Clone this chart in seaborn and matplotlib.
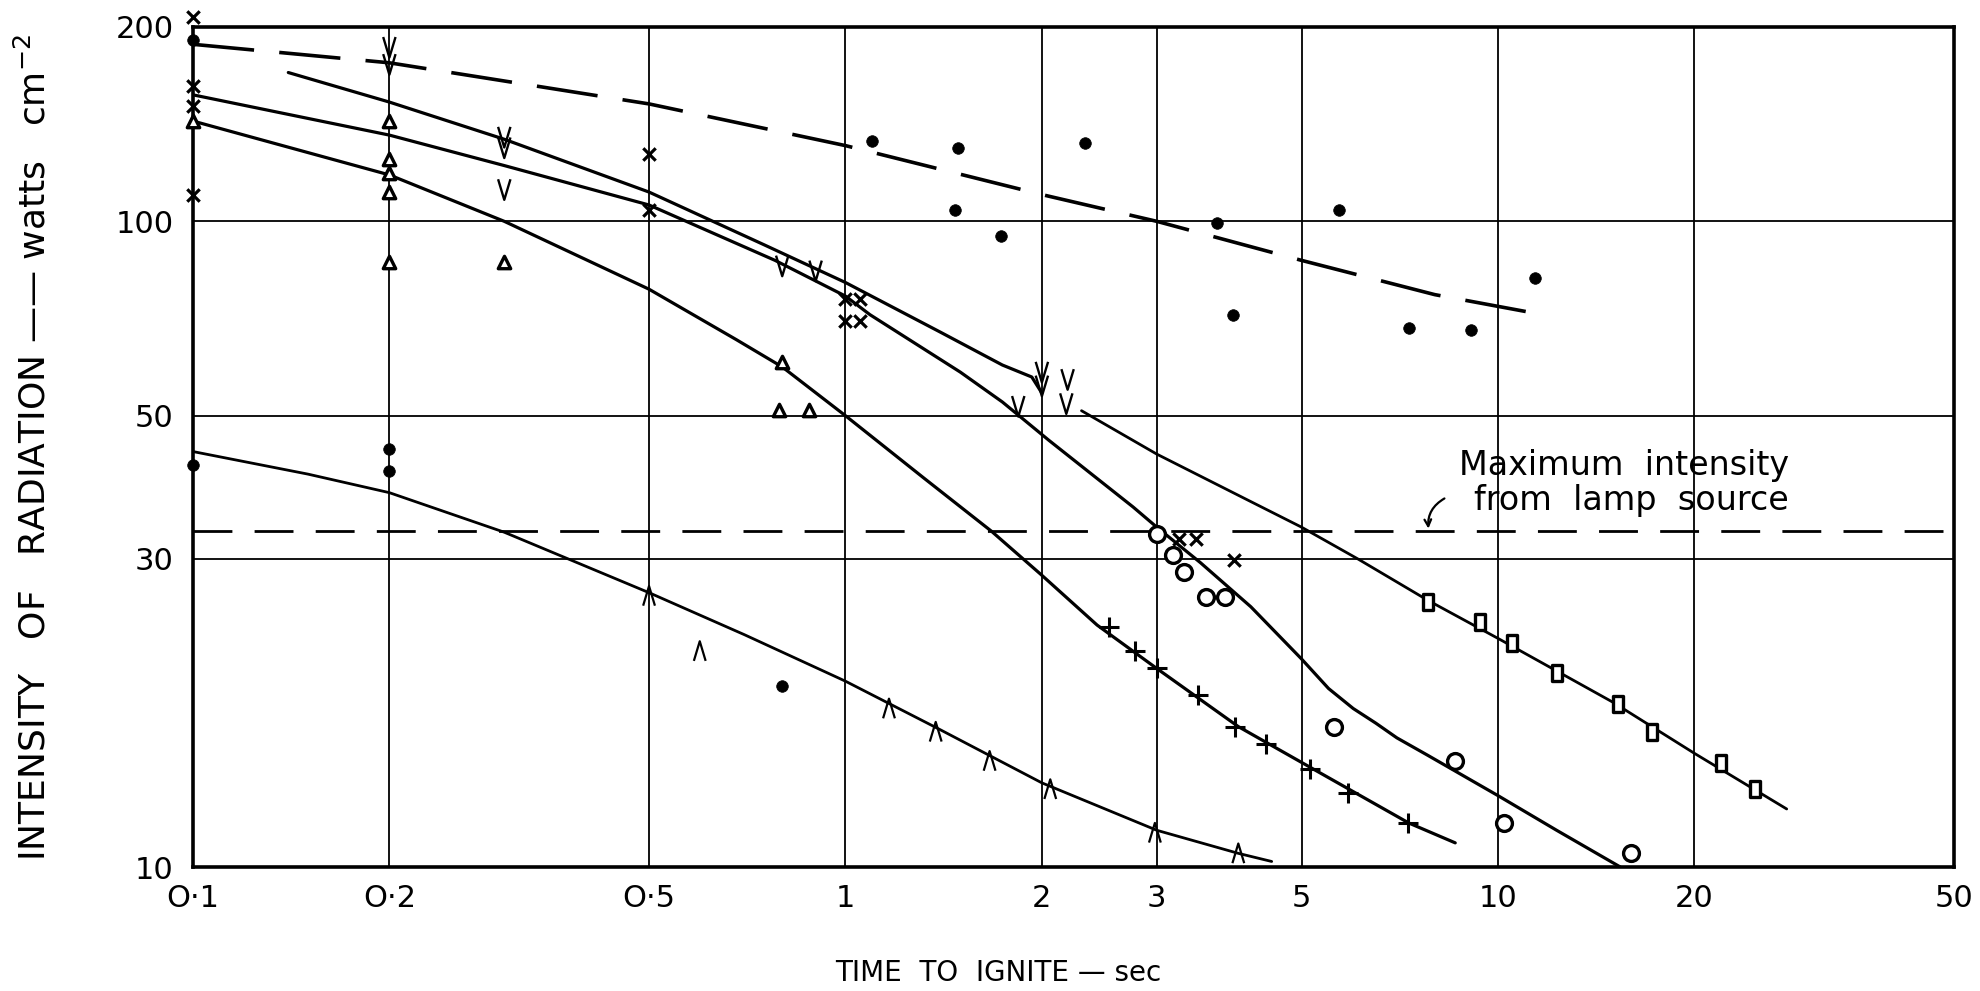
import numpy as np
import pandas as pd
import matplotlib
matplotlib.use("Agg")
import matplotlib.pyplot as plt
from matplotlib.path import Path
import seaborn as sns

# ---------------- data: time to ignite (s) vs radiation intensity (W cm^-2) ----------------
# upper dashed trend and its filled-circle observations
dash_t = [0.1, 0.2, 0.5, 1.0, 2.0, 3.0, 5.0, 8.0, 11.7]
dash_I = [188, 176, 152, 131, 110, 100, 87, 77, 71.7]
dot_hi_t = [0.1, 1.1, 1.49, 2.33, 1.47, 1.73, 3.71, 3.93, 5.7, 7.3, 9.1, 11.4]
dot_hi_I = [191, 133, 130, 132, 104, 95, 99.5, 71.7, 104, 68.3, 67.9, 81.7]

# curve A (v observations, upper solid)
A_t = [0.14, 0.2, 0.3, 0.5, 0.75, 1.0, 1.4, 1.74, 1.93, 2.0]
A_I = [170, 153, 134, 111, 92, 80.4, 67.3, 59.9, 57.4, 54.2]
v_t = [0.2, 0.2, 0.3, 0.3, 0.3, 0.8, 0.9, 2.0, 2.0, 2.19, 1.84, 2.18]
v_I = [186, 175, 135, 130, 112, 85.3, 83.8, 58.4, 55.6, 56.9, 51.7, 52.2]

# curve B (x and open-circle observations)
B_t = [0.1, 0.2, 0.3, 0.5, 0.78, 1.0, 1.09, 1.5, 1.74, 2.05, 2.76, 3.0, 3.5, 4.18,
       5.0, 5.5, 6.0, 6.5, 7.0, 7.8, 10.0, 12.3, 15.4]
B_I = [157, 136, 122, 106, 87, 76.6, 71.7, 58.4, 52.5, 45.8, 36.1, 33.6, 29.6, 25.3,
       21.0, 18.9, 17.6, 16.7, 15.85, 14.9, 12.9, 11.4, 10.0]
x_t = [0.1, 0.1, 0.1, 0.1, 0.5, 0.5, 1.0, 1.054, 1.0, 1.054, 3.24, 3.45, 3.94]
x_I = [207, 162, 151, 110, 127, 104, 75.7, 75.7, 70.1, 70.1, 32.2, 32.2, 29.9]
ring_t = [3.0, 3.18, 3.30, 3.57, 3.81, 5.6, 8.6, 10.2, 16.0]
ring_I = [32.8, 30.4, 28.6, 26.2, 26.2, 16.5, 14.6, 11.7, 10.5]

# curve C (triangle and plus observations)
C_t = [0.1, 0.2, 0.3, 0.5, 0.68, 0.8, 1.0, 1.32, 1.675, 2.0, 2.43, 3.0, 4.0, 5.2, 7.3, 8.6]
C_I = [143, 118, 100, 78.5, 65.6, 59.5, 50, 40, 33.1, 28.3, 23.7, 20.3, 16.5, 14.2, 11.7, 10.9]
tri_t = [0.1, 0.2, 0.2, 0.2, 0.2, 0.2, 0.3, 0.8, 0.79, 0.88]
tri_I = [143, 143, 125, 119, 111, 86.6, 86.6, 60.5, 51, 51]
plus_t = [2.53, 2.78, 3.0, 3.47, 3.95, 4.41, 5.16, 5.9, 7.29]
plus_I = [23.5, 21.6, 20.3, 18.5, 16.5, 15.5, 14.2, 13.0, 11.7]

# curve D (square observations)
D_t = [2.3, 3.0, 4.16, 5.0, 6.1, 7.8, 10.0, 15.0, 20.0, 27.7]
D_I = [50.9, 43.6, 36.9, 33.6, 30.0, 25.9, 22.6, 18.0, 15.0, 12.3]
sq_t = [7.8, 9.4, 10.5, 12.3, 15.25, 17.2, 22.0, 24.8]
sq_I = [25.7, 24.0, 22.2, 20.0, 17.9, 16.2, 14.5, 13.2]

# curve E (lowest solid, wedge and filled-circle observations)
E_t = [0.1, 0.15, 0.2, 0.3, 0.5, 0.7, 1.0, 1.4, 2.0, 3.0, 4.0, 4.5]
E_I = [44, 40.6, 38, 33, 26.6, 22.9, 19.4, 16.3, 13.5, 11.4, 10.5, 10.2]
wedge_t = [0.5, 0.598, 1.166, 1.375, 1.663, 2.06, 2.98, 4.0]
wedge_I = [26.3, 21.6, 17.6, 16.2, 14.6, 13.2, 11.3, 10.5]
dot_lo_t = [0.1, 0.2, 0.2, 0.8]
dot_lo_I = [42, 44.4, 41, 19.1]

# maximum intensity available from the lamp source
lamp_I = 33.1
lamp_t = [0.1, 50]

x_ticks = [0.1, 0.2, 0.5, 1, 2, 3, 5, 10, 20, 50]
x_labels = ["O·1", "O·2", "O·5", "1", "2", "3", "5", "10", "20", "50"]
y_ticks = [10, 30, 50, 100, 200]
y_labels = ["10", "30", "50", "100", "200"]

# ---------------- figure ----------------
sns.set_theme(style="white")
plt.rcParams["font.family"] = ["DejaVu Sans"]
plt.rcParams["mathtext.fontset"] = "dejavusans"

fig = plt.figure(figsize=(19.81, 9.91), dpi=100)
ax = fig.add_axes([0.0974, 0.1251, 0.8890, 0.8477])
ax.set_xscale("log")
ax.set_yscale("log")
ax.set_xlim(0.1, 50)
ax.set_ylim(10, 200)

ink = "black"
lw = 2.3


def curve(t, I, **kw):
    df = pd.DataFrame({"t": t, "I": I})
    sns.lineplot(data=df, x="t", y="I", ax=ax, sort=False, estimator=None,
                 color=ink, legend=False, **kw)


def points(t, I, marker, s, style="open", lw_m=2.2):
    df = pd.DataFrame({"t": t, "I": I})
    common = dict(data=df, x="t", y="I", ax=ax, marker=marker, s=s, legend=False,
                  clip_on=False, zorder=5)
    if style == "filled":
        sns.scatterplot(color=ink, edgecolor=ink, linewidth=0.5, **common)
    elif style == "stroke":
        sns.scatterplot(color=ink, linewidth=lw_m, **common)
    elif style == "outline":
        sns.scatterplot(facecolor="none", edgecolor=ink, linewidth=lw_m, **common)
    else:
        sns.scatterplot(facecolor="white", edgecolor=ink, linewidth=lw_m, **common)


# lines
curve(dash_t, dash_I, linewidth=2.6, dashes=(17, 7))
curve(A_t, A_I, linewidth=lw)
curve(B_t, B_I, linewidth=lw)
curve(C_t, C_I, linewidth=lw)
curve(D_t, D_I, linewidth=2.0)
curve(E_t, E_I, linewidth=2.0)
sns.lineplot(x=lamp_t, y=[lamp_I, lamp_I], ax=ax, color=ink, linewidth=2.0,
             dashes=(14, 8), legend=False)

# marker shapes
tall_box = Path([(-0.6, -1.0), (0.6, -1.0), (0.6, 1.0), (-0.6, 1.0), (-0.6, -1.0)],
                [Path.MOVETO, Path.LINETO, Path.LINETO, Path.LINETO, Path.CLOSEPOLY])
vee = Path([(-0.6, 1.0), (0.0, -1.0), (0.6, 1.0)],
           [Path.MOVETO, Path.LINETO, Path.LINETO])
wedge = Path([(-0.6, -1.0), (0.0, 1.0), (0.6, -1.0)],
             [Path.MOVETO, Path.LINETO, Path.LINETO])

# observations
points(dot_hi_t, dot_hi_I, "o", 70, style="filled")
points(dot_lo_t, dot_lo_I, "o", 70, style="filled")
points(v_t, v_I, vee, 220, style="outline", lw_m=1.7)
points(wedge_t, wedge_I, wedge, 200, style="outline", lw_m=1.6)
points(x_t, x_I, "x", 80, style="stroke", lw_m=2.3)
points(ring_t, ring_I, "o", 130, lw_m=2.4)
points(tri_t, tri_I, "^", 80, lw_m=2.4)
points(plus_t, plus_I, "+", 200, style="stroke", lw_m=2.2)
points(sq_t, sq_I, tall_box, 140, lw_m=2.4)

# annotation for the lamp limit
ax.text(15.6, 41.9, "Maximum  intensity", ha="center", va="center", fontsize=24, color=ink)
ax.text(16.0, 36.9, "from  lamp  source", ha="center", va="center", fontsize=24, color=ink)
ax.annotate("", xy=(7.83, lamp_I), xytext=(8.35, 37.4),
            arrowprops=dict(arrowstyle="->", color=ink, lw=1.6,
                            connectionstyle="arc3,rad=0.35"))

# grid, ticks and frame
ax.set_xticks(x_ticks)
ax.set_xticklabels(x_labels)
ax.set_yticks(y_ticks)
ax.set_yticklabels(y_labels)
ax.minorticks_off()
ax.tick_params(axis="both", length=0, labelsize=22, colors=ink)
ax.tick_params(axis="x", pad=12)
ax.tick_params(axis="y", pad=14)
ax.grid(True, which="major", color=ink, linewidth=1.3)
for sp in ax.spines.values():
    sp.set_visible(True)
    sp.set_color(ink)
    sp.set_linewidth(2.6)

ax.set_xlabel("TIME  TO  IGNITE — sec", fontsize=20, color=ink)
ax.xaxis.set_label_coords(0.457, -0.126)
ax.xaxis.label.set_va("center")
ax.set_ylabel("INTENSITY   OF   RADIATION —— watts   cm$^{-2}$", fontsize=26, color=ink)
ax.yaxis.set_label_coords(-0.080, 0.5)

fig.savefig("out.png", dpi=100, facecolor="white")
